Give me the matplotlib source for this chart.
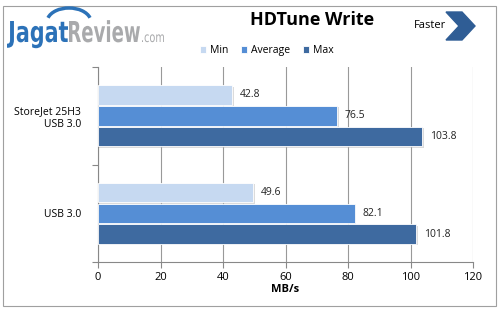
import numpy as np
import matplotlib.pyplot as plt
from matplotlib.patches import Rectangle, Polygon, Arc, PathPatch
from matplotlib.textpath import TextPath
from matplotlib.font_manager import FontProperties
from matplotlib.transforms import Affine2D, IdentityTransform

categories = ["StoreJet 25H3\nUSB 3.0", "USB 3.0"]
series = ["Min", "Average", "Max"]
min_vals = [42.8, 49.6]
avg_vals = [76.5, 82.1]
max_vals = [103.8, 101.8]
colors = ["#c6d9f1", "#558ed5", "#3e6aa0"]
xticks = [0, 20, 40, 60, 80, 100, 120]

plt.rcParams['font.family'] = ['Open Sans', 'DejaVu Sans']

fig = plt.figure(figsize=(5, 3.09), dpi=100)
W, H = 500, 309
ax = fig.add_axes([98 / W, 1 - 262 / H, 375 / W, 195 / H])

y = np.arange(len(categories))
step = 0.215
h = 0.2
for i, (vals, c) in enumerate(zip([min_vals, avg_vals, max_vals], colors)):
    pos = y + (i - 1) * step
    # soft shadow
    ax.barh(pos + 0.015, np.array(vals) + 0.6, height=h, color="#b8b8b8",
            alpha=0.5, zorder=2)
    ax.barh(pos, vals, height=h, color=c, edgecolor="white",
            linewidth=0.6, zorder=3, label=series[i])
    for p, v in zip(pos, vals):
        ax.text(v + 2.5, p, f"{v}", va="center", ha="left", fontsize=7.5,
                color="#222222", zorder=4)

ax.set_xlim(0, 120)
ax.set_ylim(1.5, -0.5)
ax.set_xticks(xticks)
ax.set_xticklabels([str(t) for t in xticks], fontsize=8)
ax.set_yticks([-0.5, 0.5, 1.5], minor=False)
ax.set_yticklabels([])
ax.set_yticks(y, minor=True)
ax.set_yticklabels(categories, minor=True, fontsize=7.5)
ax.tick_params(axis="y", which="minor", length=0, pad=12)
ax.tick_params(axis="y", which="major", length=4, color="#888888")
ax.tick_params(axis="x", length=4, color="#888888", pad=3)
ax.grid(axis="x", color="#999999", linewidth=0.8, zorder=0)
for s in ["top", "right"]:
    ax.spines[s].set_visible(False)
ax.spines["left"].set_color("#888888")
ax.spines["bottom"].set_color("#888888")
ax.set_xlabel("MB/s", fontsize=8, fontweight="bold", labelpad=1)

ax.legend(loc="lower center", bbox_to_anchor=(0.45, 1.03), ncol=3, frameon=False,
          fontsize=7.5, handlelength=0.6, handleheight=0.6, handletextpad=0.4,
          columnspacing=1.2, borderaxespad=0.1)

fig.text(312 / W, 1 - 20 / H, "HDTune Write", fontsize=13, fontweight="bold",
         ha="center", va="center")

# outer frame
fig.patches.append(Rectangle((3 / W, 3 / H), 493 / W, 300 / H, transform=fig.transFigure,
                             fill=False, edgecolor="#a0a0a0", linewidth=0.8))


# logo: condensed words drawn as paths in pixel coords
def word(s, x0, x1, base, cap, color, weight="bold"):
    fp = FontProperties(family="DejaVu Sans", weight=weight)
    tp = TextPath((0, 0), s, size=1, prop=fp)
    capref = TextPath((0, 0), "H", size=1, prop=fp).get_extents().height
    ext = tp.get_extents()
    sx = (x1 - x0) / ext.width
    sy = cap / capref
    tr = Affine2D().translate(-ext.x0, 0).scale(sx, sy).translate(x0, H - base)
    fig.patches.append(PathPatch(tp, transform=tr + IdentityTransform(),
                                 color=color, lw=0))


word("Jagat", 7, 68, 42, 21, "#2c72b8")
word("Review", 69, 140, 42, 21, "#a9aaac")
word(".com", 142, 164, 42, 10, "#a9aaac", weight="normal")
fig.patches.append(Arc((69 / W, 1 - 22 / H), 44 / W, 28 / H, theta1=18, theta2=162,
                       transform=fig.transFigure, color="#2c72b8", linewidth=2.5))

# faster arrow
fig.text(430 / W, 1 - 26 / H, "Faster", fontsize=8, ha="center", va="center")
chev = [(446, 12), (462, 12), (475, 26), (462, 40), (446, 40), (459, 26)]
fig.patches.append(Polygon([(px / W, 1 - py / H) for px, py in chev],
                           transform=fig.transFigure, color="#2f5d95"))

fig.savefig("out.png", dpi=100)
